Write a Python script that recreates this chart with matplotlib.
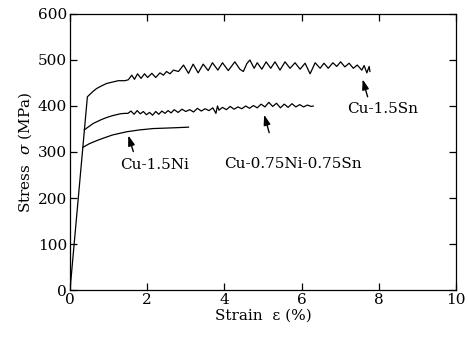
import matplotlib
matplotlib.use("Agg")
from matplotlib import pyplot as plt

plt.rcParams['font.family'] = ['DejaVu Serif']
plt.rcParams['mathtext.fontset'] = 'dejavuserif'

# Cu-1.5Sn
sn_x = [0, 0.45, 0.6, 0.69, 0.8, 0.95, 1.1, 1.25, 1.42, 1.51,
        1.60, 1.67, 1.75, 1.84, 1.93, 2.01, 2.12, 2.22, 2.33, 2.42,
        2.50, 2.59, 2.68, 2.81, 2.94, 3.07, 3.19, 3.32, 3.45, 3.58,
        3.69, 3.83, 3.95, 4.10, 4.27, 4.40, 4.49, 4.58, 4.66, 4.77,
        4.85, 4.97, 5.08, 5.20, 5.31, 5.44, 5.57, 5.70, 5.83, 5.96,
        6.09, 6.22, 6.35, 6.48, 6.58, 6.69, 6.81, 6.91, 7.01, 7.12,
        7.23, 7.34, 7.44, 7.56, 7.62, 7.69, 7.75, 7.77]
sn_y = [0, 420, 432, 438, 443, 449, 452, 455, 455, 457,
        467, 458, 470, 460, 470, 462, 471, 462, 472, 467,
        475, 470, 478, 475, 489, 471, 491, 472, 491, 477,
        494, 478, 494, 477, 496, 480, 475, 492, 500, 482,
        494, 480, 496, 482, 496, 478, 496, 482, 494, 480,
        493, 470, 494, 482, 493, 482, 494, 486, 496, 485,
        493, 482, 489, 478, 488, 472, 486, 475]

# Cu-0.75Ni-0.75Sn
nisn_x = [0.37, 0.45, 0.6, 0.8, 0.95, 1.1, 1.3, 1.42, 1.50,
          1.58, 1.66, 1.74, 1.82, 1.90, 1.98, 2.06, 2.14, 2.22, 2.30,
          2.38, 2.46, 2.54, 2.62, 2.70, 2.80, 2.90, 3.00, 3.10, 3.20,
          3.30, 3.40, 3.50, 3.60, 3.70, 3.78, 3.82, 3.86, 3.95, 4.05,
          4.15, 4.25, 4.35, 4.45, 4.55, 4.65, 4.75, 4.85, 4.95, 5.05,
          5.15, 5.25, 5.35, 5.45, 5.55, 5.65, 5.75, 5.85, 5.95, 6.05,
          6.15, 6.25, 6.30]
nisn_y = [348, 353, 362, 370, 375, 379, 383, 384, 384,
          389, 382, 390, 383, 388, 381, 386, 380, 388, 382,
          389, 384, 390, 385, 392, 386, 393, 388, 392, 387,
          395, 389, 394, 390, 396, 384, 400, 391, 397, 392,
          399, 393, 398, 394, 400, 395, 401, 396, 404, 398,
          408, 399, 406, 396, 404, 397, 405, 398, 403, 398,
          402, 399, 400]

# Cu-1.5Ni
ni_x = [0.33, 0.5, 0.7, 0.86, 1.1, 1.47, 1.8, 2.16, 2.5, 2.8, 3.07]
ni_y = [310, 318, 325, 330, 337, 344, 348, 351, 352, 353, 354]

plt.figure(figsize=(4.68, 3.38), dpi=100)
ax = plt.axes([0.1496, 0.142, 0.8248, 0.8166])

ax.plot(sn_x, sn_y, color="k", lw=0.9)
ax.plot(nisn_x, nisn_y, color="k", lw=0.9)
ax.plot(ni_x, ni_y, color="k", lw=0.9)

arrow = dict(arrowstyle="-|>,head_length=0.6,head_width=0.2", color="k", lw=1.0,
             mutation_scale=10, shrinkA=0, shrinkB=0)
ax.annotate("", xy=(1.51, 336), xytext=(1.64, 301), arrowprops=arrow)
ax.text(2.18, 271, "Cu-1.5Ni", ha="center", va="center", fontsize=11)
ax.annotate("", xy=(5.03, 381), xytext=(5.16, 342), arrowprops=arrow)
ax.text(5.78, 274, "Cu-0.75Ni-0.75Sn", ha="center", va="center", fontsize=11)
ax.annotate("", xy=(7.58, 458), xytext=(7.71, 420), arrowprops=arrow)
ax.text(8.10, 393, "Cu-1.5Sn", ha="center", va="center", fontsize=11)

ax.set_xlim(0, 10)
ax.set_ylim(0, 600)
ax.set_xticks([0, 2, 4, 6, 8, 10])
ax.set_yticks([0, 100, 200, 300, 400, 500, 600])
ax.tick_params(direction="in", top=True, right=True, length=5, width=0.9, labelsize=11, pad=2)
for s in ax.spines.values():
    s.set_linewidth(0.9)

ax.set_xlabel("Strain  ε (%)", fontsize=11, labelpad=1)
ax.set_ylabel(r"Stress  $\sigma$ (MPa)", fontsize=11, labelpad=3)

plt.savefig("out.png", dpi=100)
